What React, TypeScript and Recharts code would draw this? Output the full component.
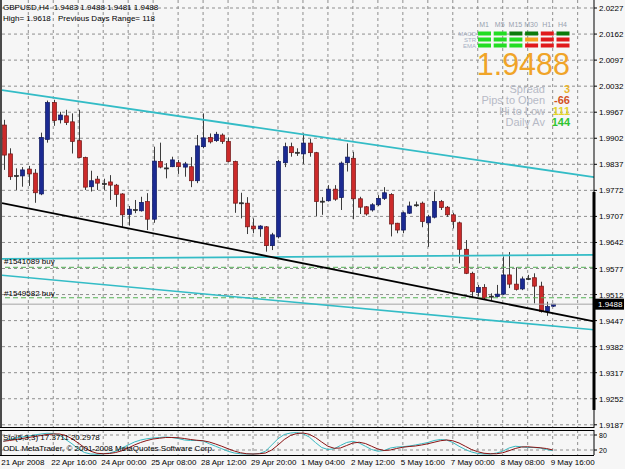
import { ComposedChart, Bar, Line, XAxis, YAxis, CartesianGrid, ReferenceLine } from 'recharts'

// GBPUSD H4, one entry per bar (bar 0 = 21 Apr 08:00, bar 88 = 9 May 16:00)
const OPEN = [
  1.9935, 1.9863, 1.9809, 1.9808, 1.9825, 1.9815, 1.9763, 1.9899, 1.9991, 1.9948,
  1.9958, 1.9943, 1.9896, 1.9854, 1.9781, 1.98, 1.9789, 1.9793, 1.9785, 1.9763,
  1.9712, 1.9723, 1.9721, 1.9744, 1.97, 1.9844, 1.9828, 1.9831, 1.9841, 1.983,
  1.9831, 1.9796, 1.9881, 1.9904, 1.9896, 1.991, 1.9894, 1.9844, 1.974, 1.974,
  1.9683, 1.9676, 1.9681, 1.9634, 1.9656, 1.9841, 1.9881, 1.9866, 1.9863, 1.989,
  1.9866, 1.9744, 1.9746, 1.9775, 1.9754, 1.9841, 1.9852, 1.9751, 1.9731, 1.9723,
  1.9736, 1.9752, 1.9762, 1.969, 1.9673, 1.9715, 1.9735, 1.974, 1.9691, 1.9705,
  1.9744, 1.973, 1.9711, 1.9691, 1.9625, 1.9565, 1.9517, 1.953, 1.9507, 1.9507,
  1.9513, 1.9561, 1.9538, 1.9526, 1.9551, 1.9554, 1.9533, 1.947, 1.9483,
]
const HIGH = [
  1.9948, 1.9877, 1.9827, 1.983, 1.9833, 1.9825, 1.9916, 1.9996, 1.9998, 1.9968,
  1.9973, 1.9964, 1.9973, 1.9856, 1.9821, 1.9808, 1.9801, 1.981, 1.9788, 1.9765,
  1.9733, 1.9748, 1.9756, 1.9765, 1.9881, 1.9891, 1.984, 1.9856, 1.9848, 1.9843,
  1.9855, 1.991, 1.9964, 1.9914, 1.9918, 1.9914, 1.9904, 1.9846, 1.9766, 1.9755,
  1.9702, 1.9685, 1.9683, 1.9666, 1.9848, 1.9891, 1.9891, 1.9877, 1.9914, 1.99,
  1.9868, 1.9755, 1.9785, 1.9785, 1.9844, 1.9889, 1.9868, 1.9756, 1.9733, 1.974,
  1.976, 1.978, 1.9765, 1.9691, 1.9719, 1.9744, 1.9744, 1.9744, 1.9711, 1.9769,
  1.9748, 1.9733, 1.9716, 1.9694, 1.9648, 1.9569, 1.9536, 1.9538, 1.9515, 1.9536,
  1.9607, 1.9618, 1.958, 1.9557, 1.9561, 1.9565, 1.9544, 1.9494, 1.9488,
]
const LOW = [
  1.9823, 1.9798, 1.9773, 1.9781, 1.9783, 1.9741, 1.976, 1.9891, 1.9933, 1.9939,
  1.9935, 1.9864, 1.9852, 1.9773, 1.9769, 1.9773, 1.9773, 1.9748, 1.9731, 1.9681,
  1.9684, 1.9715, 1.9719, 1.9673, 1.9691, 1.9827, 1.9802, 1.983, 1.9813, 1.9806,
  1.978, 1.979, 1.9877, 1.9889, 1.9893, 1.9888, 1.9842, 1.9716, 1.9702, 1.9663,
  1.9665, 1.9656, 1.9619, 1.9623, 1.9652, 1.983, 1.9856, 1.9858, 1.9838, 1.9856,
  1.9708, 1.9711, 1.9744, 1.9746, 1.9723, 1.9819, 1.97, 1.9713, 1.9709, 1.9719,
  1.9733, 1.9748, 1.9657, 1.9665, 1.9665, 1.9713, 1.9731, 1.968, 1.9631, 1.9702,
  1.9723, 1.9706, 1.9677, 1.959, 1.9563, 1.9503, 1.9507, 1.95, 1.9498, 1.9505,
  1.9511, 1.9528, 1.9522, 1.9523, 1.9548, 1.949, 1.9467, 1.9459, 1.9481,
]
const CLOSE = [
  1.986, 1.9806, 1.9808, 1.9823, 1.9813, 1.9766, 1.9904, 1.9991, 1.9946, 1.996,
  1.9941, 1.9894, 1.9854, 1.978, 1.9796, 1.979, 1.9788, 1.9785, 1.9762, 1.9711,
  1.9725, 1.9724, 1.9742, 1.97, 1.9845, 1.983, 1.9827, 1.9848, 1.9831, 1.9838,
  1.9796, 1.9883, 1.9903, 1.9893, 1.9912, 1.9894, 1.9844, 1.974, 1.9741, 1.9681,
  1.9676, 1.9683, 1.9634, 1.9661, 1.9844, 1.9881, 1.9866, 1.9867, 1.989, 1.9866,
  1.9744, 1.9745, 1.9775, 1.975, 1.984, 1.9855, 1.9751, 1.973, 1.9713, 1.9736,
  1.9752, 1.9766, 1.9688, 1.9673, 1.9716, 1.9733, 1.9736, 1.9694, 1.9706, 1.9744,
  1.9729, 1.9711, 1.9694, 1.9625, 1.9565, 1.9519, 1.953, 1.9503, 1.9508, 1.9513,
  1.9561, 1.9538, 1.9525, 1.9551, 1.9552, 1.9533, 1.947, 1.9482, 1.9488,
]

// Stochastic(5,3,3): main (cyan) and signal (red)
const STOCH_MAIN = [
  55, 62, 68, 72, 76, 80, 84, 87, 86, 80, 62, 45, 25, 10, 4, 3, 5, 8, 15, 28,
  40, 52, 60, 65, 68, 70, 72, 70, 66, 60, 58, 58, 56, 45, 35, 25, 15, 8, 5, 4,
  4, 6, 15, 40, 65, 82, 88, 90, 85, 72, 50, 30, 22, 25, 38, 50, 55, 48, 35, 22,
  15, 18, 28, 32, 33, 36, 40, 45, 50, 58, 62, 60, 50, 35, 22, 12, 6, 4, 4, 8,
  15, 28, 35, 33, 30, 30, 28, 22, 17.37,
]
const STOCH_SIGNAL = [
  55, 58, 62, 66, 70, 74, 78, 82, 84, 84, 78, 65, 48, 30, 15, 7, 5, 6, 10, 17,
  28, 40, 50, 58, 64, 67, 70, 70, 69, 66, 62, 59, 57, 52, 44, 35, 25, 16, 9, 5,
  4, 5, 8, 20, 40, 62, 78, 86, 88, 83, 70, 52, 35, 27, 28, 38, 48, 51, 46, 35,
  24, 18, 20, 26, 31, 34, 36, 40, 45, 51, 57, 60, 57, 48, 35, 22, 13, 7, 5, 5,
  9, 17, 26, 32, 33, 31, 29, 26, 20.3,
]
const STOCH_LEVELS = [20, 80]

const PRICE_TICKS = [
  2.0227, 2.0162, 2.0097, 2.0032, 1.9967, 1.9902, 1.9837, 1.9772, 1.9707,
  1.9642, 1.9577, 1.9512, 1.9447, 1.9382, 1.9317, 1.9252, 1.9187,
]
const LABEL_BARS = [0, 8, 16, 24, 32, 40, 48, 56, 64, 72, 80, 88]
const TIME_LABELS = [
  '21 Apr 2008', '22 Apr 16:00', '24 Apr 00:00', '25 Apr 08:00', '28 Apr 12:00', '29 Apr 20:00',
  '1 May 04:00', '2 May 12:00', '5 May 16:00', '7 May 00:00', '8 May 08:00', '9 May 16:00',
]
const GRID_BARS = [4, 8, 12, 16, 20, 24, 28, 32, 36, 40, 44, 48, 52, 56, 60, 64, 68, 72, 76, 80, 84, 88, 92]

const X_MIN = -0.21
const X_MAX = 94.62

// trend lines: price at the left and right edge of the chart
const UPPER_CHANNEL = [2.0022, 1.9805]
const LOWER_CHANNEL = [1.956, 1.9424]
const BLACK_TREND = [1.974, 1.9445]
const LEVEL_LINE = [1.9601, 1.9611]
const ORDERS = [
  { ticket: '#1541089 buy', price: 1.958 },
  { ticket: '#1549582 buy', price: 1.9504 },
]
const BID = 1.9488
const RANGE_BAR = [1.9768, 1.9224]

const TIMEFRAMES = ['M1', 'M5', 'M15', 'M30', 'H1', 'H4']
const SIGNAL_ROWS = ['MACD', 'STR', 'EMA']
const SIGNAL_STATES = [
  ['g', 'g', 'G', 'G', 'r', 'G'],
  ['g', 'g', 'g', 'o', 'r', 'r'],
  ['g', 'g', 'g', 'r', 'r', 'r'],
]
const INFO_LABELS = ['Spread', 'Pips to Open', 'Hi to Low', 'Daily Av']
const INFO_VALUES = ['3', '-66', '111', '144']

const STATE_COLORS: Record<string, string> = { g: '#22dd22', G: '#0b7a0b', r: '#e0191b', o: '#f4a21e' }
const INFO_COLORS = ['#e9b42c', '#d2521f', '#e4d22a', '#2fc42f']
const FONT = '"Liberation Sans", Arial, sans-serif'
const GRID = '#8e8e8e'
const CYAN = '#33bcc6'

const candles = OPEN.map((o, i) => ({
  i,
  open: o,
  high: HIGH[i],
  low: LOW[i],
  close: CLOSE[i],
  range: [LOW[i], HIGH[i]],
}))
const stoch = STOCH_MAIN.map((k, i) => ({ i, k, d: STOCH_SIGNAL[i] }))

function Candle(props: any) {
  const { x, y, width, height, payload } = props
  if (y == null || height == null) return null
  const top = Math.min(y, y + height)
  const h = Math.abs(height)
  const span = payload.high - payload.low || 1e-9
  const toY = (v: number) => top + ((payload.high - v) / span) * h
  const cx = Math.round(x + width / 2) + 0.5
  const up = payload.close >= payload.open
  const doji = Math.abs(payload.close - payload.open) < 0.00012
  const bTop = toY(Math.max(payload.open, payload.close))
  const bBot = toY(Math.min(payload.open, payload.close))
  return (
    <g>
      <line x1={cx} x2={cx} y1={top} y2={top + h} stroke="#3c3c3c" strokeWidth={1} />
      <rect
        x={cx - 2}
        y={bTop}
        width={4}
        height={Math.max(1, bBot - bTop)}
        fill={doji ? '#2a2a2a' : up ? '#1b2a92' : '#cc2a2a'}
        stroke={doji ? '#2a2a2a' : up ? '#0e1760' : '#701616'}
        strokeWidth={0.7}
      />
    </g>
  )
}

function PriceTick({ x, y, payload }: any) {
  return (
    <text x={x} y={y} dy={3} fontSize={8} fontFamily={FONT} fill="#000" textAnchor="start">
      {payload.value.toFixed(4)}
    </text>
  )
}

function StochTick({ x, y, payload }: any) {
  return (
    <text x={x} y={y} dy={3} fontSize={7} fontFamily={FONT} fill="#000" textAnchor="start">
      {payload.value}
    </text>
  )
}

function TimeTick({ x, payload }: any) {
  const label = TIME_LABELS[LABEL_BARS.indexOf(payload.value)]
  return (
    <text x={x - 2} y={36} fontSize={8} fontFamily={FONT} fill="#000" textAnchor="start">
      {label}
    </text>
  )
}

function BidLabel(props: any) {
  const vb = props.viewBox
  const x = vb.x + vb.width + 1
  return (
    <g>
      <rect x={x} y={vb.y - 5.5} width={29} height={11} fill="#000" />
      <text x={x + 3} y={vb.y + 3} fontSize={8} fontFamily={FONT} fill="#fff">
        {BID.toFixed(4)}
      </text>
    </g>
  )
}

export default function App() {
  return (
    <div style={{ position: 'absolute', left: 0, top: 0, width: 625, height: 469, background: '#f6f6f6', overflow: 'hidden', fontFamily: FONT }}>
      <div style={{ position: 'absolute', left: 0, top: 429 }}>
        <ComposedChart width={625} height={40} data={stoch} margin={{ top: 1, right: 0, bottom: 0, left: 2 }}>
          <CartesianGrid stroke={GRID} strokeDasharray="3 3" verticalValues={GRID_BARS} horizontalValues={STOCH_LEVELS} />
          <XAxis
            dataKey="i"
            type="number"
            domain={[X_MIN, X_MAX]}
            ticks={LABEL_BARS}
            interval={0}
            allowDataOverflow
            height={14}
            axisLine={false}
            tickLine={false}
            tick={<TimeTick />}
          />
          <YAxis
            orientation="right"
            width={31}
            domain={[0, 100]}
            ticks={STOCH_LEVELS}
            interval={0}
            tick={<StochTick />}
            tickSize={3}
            tickMargin={2}
            axisLine={{ stroke: '#000' }}
            tickLine={{ stroke: '#000' }}
          />
          <Line dataKey="k" type="linear" stroke="#3ab8c0" strokeWidth={1} dot={false} isAnimationActive={false} />
          <Line dataKey="d" type="linear" stroke="#8a1414" strokeWidth={1} dot={false} isAnimationActive={false} />
        </ComposedChart>
      </div>

      <div style={{ position: 'absolute', left: 0, top: 0 }}>
        <ComposedChart width={625} height={432} data={candles} margin={{ top: 0, right: 0, bottom: 4, left: 2 }}>
          <CartesianGrid stroke={GRID} strokeDasharray="3 3" verticalValues={GRID_BARS} horizontalValues={PRICE_TICKS} />
          <XAxis dataKey="i" type="number" domain={[X_MIN, X_MAX]} ticks={GRID_BARS} hide allowDataOverflow />
          <YAxis
            orientation="right"
            width={31}
            domain={[1.9179, 2.0247]}
            ticks={PRICE_TICKS}
            interval={0}
            allowDataOverflow
            tick={<PriceTick />}
            tickSize={3}
            tickMargin={2}
            axisLine={{ stroke: '#000' }}
            tickLine={{ stroke: '#000' }}
          />
          <ReferenceLine y={BID} stroke="#a4a4a4" strokeWidth={1} label={<BidLabel />} />
          {ORDERS.map((o) => (
            <ReferenceLine key={o.ticket} y={o.price} stroke="#55b055" strokeDasharray="5 3" strokeWidth={1} />
          ))}
          <ReferenceLine segment={[{ x: X_MIN, y: LEVEL_LINE[0] }, { x: X_MAX, y: LEVEL_LINE[1] }]} stroke={CYAN} strokeWidth={1.8} ifOverflow="hidden" />
          <ReferenceLine segment={[{ x: X_MIN, y: UPPER_CHANNEL[0] }, { x: X_MAX, y: UPPER_CHANNEL[1] }]} stroke={CYAN} strokeWidth={1.8} ifOverflow="hidden" />
          <ReferenceLine segment={[{ x: X_MIN, y: LOWER_CHANNEL[0] }, { x: X_MAX, y: LOWER_CHANNEL[1] }]} stroke={CYAN} strokeWidth={1.6} ifOverflow="hidden" />
          <ReferenceLine segment={[{ x: X_MIN, y: BLACK_TREND[0] }, { x: X_MAX, y: BLACK_TREND[1] }]} stroke="#000" strokeWidth={1.8} ifOverflow="hidden" />
          <ReferenceLine segment={[{ x: X_MAX, y: RANGE_BAR[0] }, { x: X_MAX, y: RANGE_BAR[1] }]} stroke="#000" strokeWidth={3} ifOverflow="visible" />
          <Bar dataKey="range" barSize={5} shape={(p: any) => <Candle {...p} />} isAnimationActive={false} />
        </ComposedChart>
      </div>

      <svg width={625} height={469} style={{ position: 'absolute', left: 0, top: 0, pointerEvents: 'none' }} fontFamily={FONT}>
        <rect x={0} y={0} width={2} height={428} fill="#4a4a4a" />
        <rect x={0} y={430} width={2} height={26} fill="#4a4a4a" />
        <line x1={0} x2={594} y1={427.5} y2={427.5} stroke="#000" strokeWidth={1.2} />
        <line x1={0} x2={594} y1={430.5} y2={430.5} stroke="#000" strokeWidth={1} />
        <line x1={0} x2={594} y1={455.5} y2={455.5} stroke="#000" strokeWidth={1} />

        <text x={3} y={10} fontSize={8} fill="#000" xmlSpace="preserve">GBPUSD,H4  1.9483 1.9488 1.9481 1.9488</text>
        <text x={3} y={21} fontSize={8} fill="#000">High= 1.9618</text>
        <text x={58} y={21} fontSize={8} fill="#000">Previous Days Range= 118</text>

        {ORDERS.map((o, k) => (
          <text key={o.ticket} x={4} y={k === 0 ? 264 : 296} fontSize={8} fill="#000">{o.ticket}</text>
        ))}

        <text x={3} y={440} fontSize={8} fill="#000">Sto(5,3,3) 17.3711 20.2978</text>
        <text x={3} y={451} fontSize={8} fill="#000">ODL MetaTrader, © 2001-2008 MetaQuotes Software Corp.</text>

        {TIMEFRAMES.map((tf, c) => (
          <text key={tf} x={484 + c * 15.7} y={27} fontSize={7} fill="#98a2b0" textAnchor="middle">{tf}</text>
        ))}
        {SIGNAL_ROWS.map((r, row) => (
          <g key={r}>
            <text x={476} y={35.5 + row * 6} fontSize={6} fill="#a6b0c4" textAnchor="end">{r}</text>
            {SIGNAL_STATES[row].map((s, c) => (
              <rect key={c} x={478 + c * 15.7} y={31.5 + row * 6} width={13} height={4} fill={STATE_COLORS[s]} />
            ))}
          </g>
        ))}
        <text x={570} y={75} fontSize={30.5} fill="#f0a428" textAnchor="end">1.9488</text>
        {INFO_LABELS.map((t, k) => (
          <g key={t}>
            <text x={545} y={92.5 + k * 11.3} fontSize={11} fill="#b6bac6" textAnchor="end">{t}</text>
            <text x={570} y={92.5 + k * 11.3} fontSize={11} fill={INFO_COLORS[k]} textAnchor="end" fontWeight="bold">{INFO_VALUES[k]}</text>
          </g>
        ))}
      </svg>
    </div>
  )
}
